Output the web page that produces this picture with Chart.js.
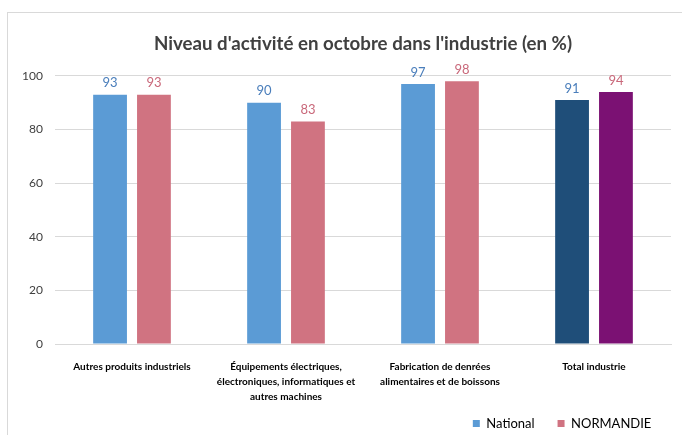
<!DOCTYPE html>
<html lang="fr">
<head>
  <meta charset="UTF-8">
  <title>Niveau d'activité en octobre dans l'industrie</title>
  <script src="https://cdn.jsdelivr.net/npm/chart.js"></script>
  <style>
    body { margin: 0; background: #fff; }
    #frame {
      position: absolute; left: 7px; top: 12px;
      width: 700px; height: 440px;
      border: 1px solid #d9d9d9;
    }
    #chart-container {
      position: absolute; left: 0; top: 0;
      width: 682px; height: 435px;
    }
  </style>
</head>
<body>
  <div id="frame"></div>
  <div id="chart-container">
    <canvas id="myChart"></canvas>
  </div>

  <script>
    // Données
    const categories = [
      'Autres produits industriels',
      ['Équipements électriques,', 'électroniques, informatiques et', 'autres machines'],
      ['Fabrication de denrées', 'alimentaires et de boissons'],
      'Total industrie'
    ];
    const nationalValues = [93, 90, 97, 91];
    const normandieValues = [93, 83, 98, 94];
    const yTicks = [0, 20, 40, 60, 80, 100];

    // Couleurs (la dernière catégorie "Total" est plus foncée)
    const nationalColors = ['#5b9bd5', '#5b9bd5', '#5b9bd5', '#1f4e79'];
    const normandieColors = ['#d07381', '#d07381', '#d07381', '#7b1173'];
    const labelColors = ['#4a7ebb', '#c9687a'];

    // Plugin maison : valeur au-dessus de chaque barre
    const valueLabels = {
      id: 'valueLabels',
      afterDatasetsDraw(chart) {
        const ctx = chart.ctx;
        ctx.save();
        ctx.font = '13px Lato';
        ctx.textAlign = 'center';
        ctx.textBaseline = 'bottom';
        chart.data.datasets.forEach((ds, i) => {
          const meta = chart.getDatasetMeta(i);
          ctx.fillStyle = labelColors[i];
          meta.data.forEach((bar, j) => {
            ctx.fillText(ds.data[j], bar.x, bar.y - 5);
          });
        });
        ctx.restore();
      }
    };

    const ctx = document.getElementById('myChart').getContext('2d');
    new Chart(ctx, {
      type: 'bar',
      data: {
        labels: categories,
        datasets: [
          {
            label: 'National',
            data: nationalValues,
            backgroundColor: nationalColors,
            categoryPercentage: 0.57,
            barPercentage: 0.77
          },
          {
            label: 'NORMANDIE',
            data: normandieValues,
            backgroundColor: normandieColors,
            categoryPercentage: 0.57,
            barPercentage: 0.77
          }
        ]
      },
      options: {
        responsive: true,
        maintainAspectRatio: false,
        animation: false,
        layout: { padding: { left: 8, right: 11, top: 12, bottom: -5 } },
        plugins: {
          title: {
            display: true,
            fullSize: false,
            text: "Niveau d'activité en octobre dans l'industrie (en %)",
            color: '#404040',
            font: { family: 'Lato', size: 18.7, weight: 'bold' },
            padding: { top: 20.5, bottom: 21 }
          },
          legend: {
            position: 'bottom',
            align: 'end',
            labels: {
              boxWidth: 7,
              boxHeight: 7,
              color: '#404040',
              font: { family: 'Lato', size: 13 },
              padding: 3,
              generateLabels: (chart) => [
                { text: 'National      ', fillStyle: '#5b9bd5', strokeStyle: '#5b9bd5', lineWidth: 0, datasetIndex: 0 },
                { text: 'NORMANDIE     ', fillStyle: '#d07381', strokeStyle: '#d07381', lineWidth: 0, datasetIndex: 1 }
              ]
            }
          },
          tooltip: { enabled: false }
        },
        scales: {
          y: {
            min: 0,
            max: 100,
            afterBuildTicks: (scale) => { scale.ticks = yTicks.map(v => ({ value: v })); },
            afterFit: (scale) => { scale.width = 47; },
            border: { display: false },
            grid: { color: '#d9d9d9', drawTicks: false },
            ticks: {
              color: '#404040',
              padding: 12,
              font: { family: 'Lato', size: 12 }
            }
          },
          x: {
            afterFit: (scale) => { scale.height = 70; },
            border: { color: '#d9d9d9' },
            grid: { display: false },
            ticks: {
              color: '#000',
              padding: 7,
              maxRotation: 0,
              autoSkip: false,
              font: { family: 'Lato', size: 10, weight: 'bold', lineHeight: 1.5 }
            }
          }
        }
      },
      plugins: [valueLabels]
    });
  </script>
</body>
</html>
